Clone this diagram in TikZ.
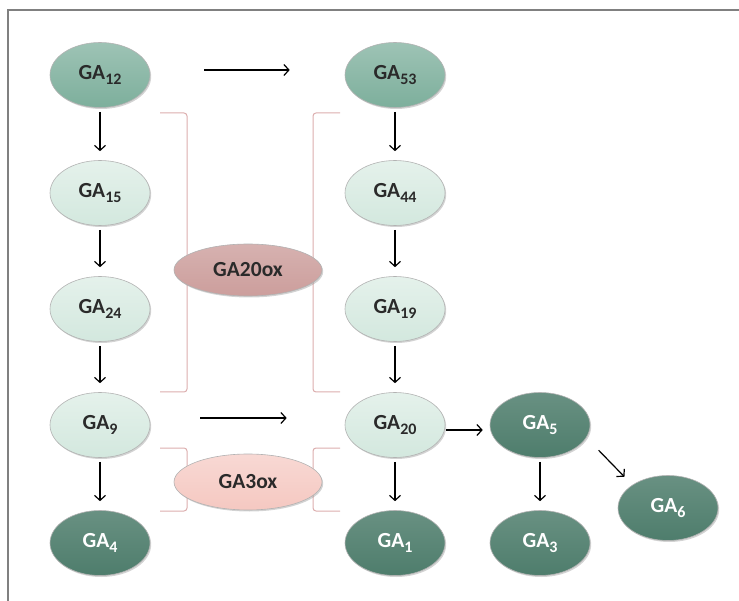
\documentclass[tikz,border=0pt]{standalone}
\usepackage{fontspec}
\setmainfont{Carlito}
\usetikzlibrary{shapes.geometric,shadows,arrows.meta}

\definecolor{midgreen}{HTML}{7DAF9C}
\definecolor{palegreen}{HTML}{D3E8DE}
\definecolor{darkgreen}{HTML}{4E7D6C}
\definecolor{oxbrown}{HTML}{CC9E9C}
\definecolor{oxpink}{HTML}{F5C8C1}
\definecolor{bracketcol}{HTML}{DCAEAE}
\definecolor{textgrey}{HTML}{2A2A2A}

\newcommand{\gasub}[1]{\raisebox{-5pt}{\fontsize{16}{17}\selectfont #1}}

\begin{document}
\begin{tikzpicture}[x=1pt,y=-1pt]
   \tikzstyle{every node}=[ellipse, draw=gray!60, line width=0.6pt, inner sep=0pt,
      minimum width=100pt, minimum height=65pt, font=\fontsize{21.5}{23}\selectfont\bfseries,
      text=textgrey, drop shadow={shadow xshift=1.2pt, shadow yshift=-1.5pt, opacity=0.35}]
   \tikzstyle{early}=[top color=midgreen!75!white, bottom color=midgreen]
   \tikzstyle{inter}=[top color=palegreen!60!white, bottom color=palegreen]
   \tikzstyle{active}=[top color=darkgreen!85!white, bottom color=darkgreen, text=white]
   \tikzstyle{enzyme}=[minimum width=148pt, minimum height=52pt]
   \tikzstyle{conv}=[-{Straight Barb[length=5pt,width=11pt]}, line width=1.2pt, black]
   \tikzstyle{bracket}=[draw=bracketcol, line width=1pt, rounded corners=3pt]

   \useasboundingbox (0,0) rectangle (739,601);
   \draw[gray, line width=1.5pt] (8,601) -- (8,10) -- (739,10);

   % brackets round the enzymes
   \draw[bracket] (160,113) -- (187,113) -- (187,392) -- (160,392);
   \draw[bracket] (340,113) -- (313,113) -- (313,392) -- (340,392);
   \draw[bracket] (160,448) -- (187,448) -- (187,511) -- (160,511);
   \draw[bracket] (340,448) -- (313,448) -- (313,511) -- (340,511);

\node[early] (ga12) at (100,75) {GA\gasub{12}};
\node[inter] (ga15) at (100,193) {GA\gasub{15}};
\node[inter] (ga24) at (100,309) {GA\gasub{24}};
\node[inter] (ga9) at (100,425) {GA\gasub{9}};
\node[active] (ga4) at (100,543) {GA\gasub{4}};

\node[early] (ga53) at (395,75) {GA\gasub{53}};
\node[inter] (ga44) at (395,193) {GA\gasub{44}};
\node[inter] (ga19) at (395,309) {GA\gasub{19}};
\node[inter] (ga20) at (395,425) {GA\gasub{20}};
\node[active] (ga1) at (395,543) {GA\gasub{1}};

\node[active] (ga5) at (540,425) {GA\gasub{5}};
\node[active] (ga3) at (540,543) {GA\gasub{3}};
\node[active] (ga6) at (668,508) {GA\gasub{6}};

\node[enzyme, top color=oxbrown!80!white, bottom color=oxbrown] (ox20) at (248,270) {GA20ox};
\node[enzyme, top color=oxpink!70!white, bottom color=oxpink, minimum height=56pt] (ox3) at (248,482) {GA3ox};

   % pathway steps
   \draw[conv, shorten <=54pt, shorten >=55pt] ([yshift=5pt]ga12.east) -- ([yshift=5pt]ga53.west);
   \draw[conv, shorten <=50pt, shorten >=58pt] ([yshift=7pt]ga9.east) -- ([yshift=7pt]ga20.west);
   \foreach \a/\b in {ga12/ga15, ga15/ga24, ga24/ga9, ga9/ga4,
                      ga53/ga44, ga44/ga19, ga19/ga20, ga20/ga1, ga5/ga3}
      \draw[conv, shorten <=4pt, shorten >=9pt] (\a) -- (\b);
   \draw[conv, shorten <=1pt, shorten >=7pt] ([yshift=-5pt]ga20.east) -- ([yshift=-5pt]ga5.west);
   \draw[conv] ([xshift=23pt,yshift=-2pt]ga5.south east) -- ([xshift=-8pt,yshift=8pt]ga6.north west);
\end{tikzpicture}
\end{document}
